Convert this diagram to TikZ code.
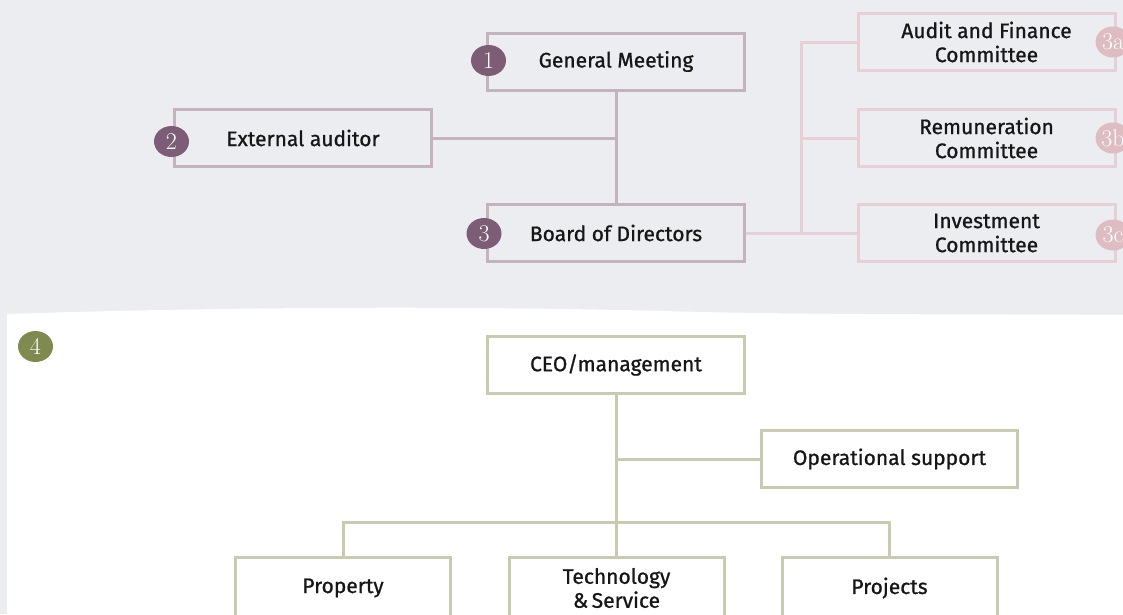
\documentclass[tikz,border=0pt]{standalone}
\usepackage{fontspec}
\newfontfamily\labelfont[FakeBold=0.9]{Fira Sans}
\usetikzlibrary{shapes.geometric}
\definecolor{pagebg}{HTML}{ECEDF1}
\definecolor{mauveline}{HTML}{C4B3BE}
\definecolor{pinkline}{HTML}{E7D0D3}
\definecolor{oliveline}{HTML}{C9CAAF}
\definecolor{badgepurple}{HTML}{7D5D75}
\definecolor{badgepink}{HTML}{DDBDC1}
\definecolor{badgeolive}{HTML}{7E8A4F}
\definecolor{ink}{HTML}{161616}
\begin{document}
\begin{tikzpicture}[x=1pt,y=-1pt,
  box/.style={draw, line width=3pt, minimum width=257pt, minimum height=57pt,
    inner sep=0pt, align=center, text=ink,
    font=\labelfont\fontsize{21}{24}\selectfont},
  govbox/.style={box, draw=mauveline},
  combox/.style={box, draw=pinkline},
  mgmtbox/.style={box, draw=oliveline, fill=white},
  unitbox/.style={mgmtbox, minimum width=215pt, minimum height=62pt},
  govline/.style={draw=mauveline, line width=3pt},
  comline/.style={draw=pinkline, line width=3pt},
  mgmtline/.style={draw=oliveline, line width=3pt},
  badge/.style={ellipse, minimum width=35pt, minimum height=31pt, inner sep=0pt,
    text=white, font=\rmfamily\fontsize{24}{24}\selectfont},
]
\clip (0,0) rectangle (1123,614);
\useasboundingbox (0,0) rectangle (1123,614);

% backgrounds: grey governance band, white management sheet
\fill[pagebg] (0,0) rectangle (1123,614);
\fill[white] (7,314) .. controls (250,306) and (500,306) .. (700,312)
  .. controls (850,315) and (1000,314) .. (1123,315) -- (1123,614) -- (7,614) -- cycle;

% governance
\node[govbox] (gm)  at (616,61.5) {General Meeting};
\node[govbox] (ea)  at (303,138)  {External auditor};
\node[govbox] (bod) at (616,233)  {Board of Directors};

\node[combox] (c3a) at (986.5,42)  {Audit and Finance\\Committee};
\node[combox] (c3b) at (986.5,138) {Remuneration\\Committee};
\node[combox] (c3c) at (986.5,233) {Investment\\Committee};

\coordinate (combus) at (801,138);

\draw[govline] (gm.south) -- (bod.north);
\draw[govline] (ea.east) -- (ea.east -| gm.south);
\draw[comline] (bod.east) -- (bod.east -| combus);
\draw[comline] (c3a.west) -- (c3a.west -| combus) -- (c3c.west -| combus) -- (c3c.west);
\draw[comline] (c3b.west) -- (c3b.west -| combus);

\node[badge, fill=badgepurple] (b1) at (488.5,60.5) {1};
\node[badge, fill=badgepurple] (b2) at (171.5,141.5) {2};
\node[badge, fill=badgepurple] (b3) at (484,233.5) {3};
\node[badge, fill=badgepink] (b3a) at (1113,42) {3a};
\node[badge, fill=badgepink] (b3b) at (1113,138) {3b};
\node[badge, fill=badgepink] (b3c) at (1113,235) {3c};

% management
\node[mgmtbox] (ceo) at (616,365) {CEO/management};
\node[mgmtbox, minimum width=256pt] (ops) at (889.5,459) {Operational support};
\node[unitbox] (prop) at (343,588)   {Property};
\node[unitbox] (tech) at (616.5,588) {Technology\\\&\,Service};
\node[unitbox] (proj) at (889.5,588) {Projects};

\coordinate (unitbus) at (616,522);

\draw[mgmtline] (ceo.south) -- (ceo.south |- tech.north);
\draw[mgmtline] (ops.west) -- (ops.west -| ceo.south);
\draw[mgmtline] (prop.north) |- (unitbus) -| (proj.north);

\node[badge, fill=badgeolive] (b4) at (35.5,346.5) {4};
\end{tikzpicture}
\end{document}
